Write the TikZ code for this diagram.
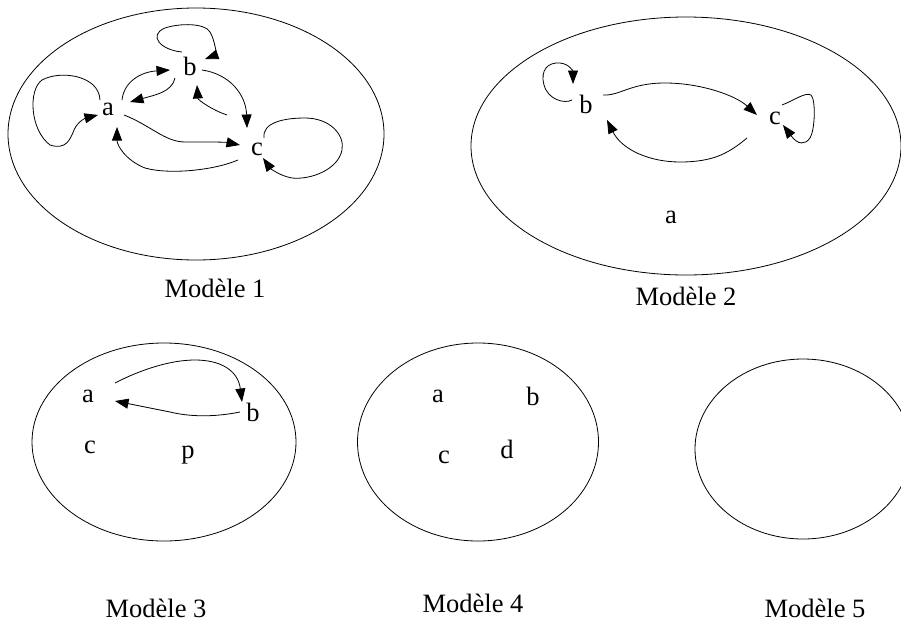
\documentclass[tikz,border=0pt]{standalone}
\usepackage{fontspec}
\setmainfont{Liberation Serif}
\usetikzlibrary{arrows.meta}
\begin{document}
\begin{tikzpicture}[x=1pt,y=-1pt,line width=0.8pt,line join=round,
  lbl/.style={anchor=base,inner sep=0pt,font=\fontsize{26.5}{30}\selectfont},
  arr/.style={-{Triangle[length=13.5pt,width=10pt]}},
  frame/.style={draw,line width=0.8pt}]
\useasboundingbox (0,0) rectangle (901,624);

% ellipses
\draw[frame] (196,134) ellipse [x radius=188pt, y radius=126pt];
\draw[frame] (686,146) ellipse [x radius=215pt, y radius=129pt];
\draw[frame] (164,442) ellipse [x radius=132pt, y radius=99pt];
\draw[frame] (478,442) ellipse [x radius=120.5pt, y radius=99pt];
\draw[frame] (803,449) ellipse [x radius=108pt, y radius=90pt];

% captions
\node[lbl] (m1) at (215,297) {Modèle 1};
\node[lbl] (m2) at (686,305) {Modèle 2};
\node[lbl] (m3) at (156,617) {Modèle 3};
\node[lbl] (m4) at (473,612) {Modèle 4};
\node[lbl] (m5) at (815,617) {Modèle 5};

% ---------- Modele 1 ----------
\node[lbl] (a1) at (108,115) {a};
\node[lbl] (b1) at (190,75) {b};
\node[lbl] (c1) at (257,155) {c};

\draw[arr] ([shift={(-8,-15)}]a1.base) .. controls (99,75) and (60,70) .. (42,80)
  .. controls (28,90) and (30,130) .. (50,145)
  .. controls (66,150) and (70,140) .. (74,130)
  .. controls (78,121) and (86,118) .. ([shift={(-10,0)}]a1.base);
\draw[arr] ([shift={(14,-15)}]a1.base) .. controls (124,82) and (140,72) .. ([shift={(-20,-5)}]b1.base);
\draw[arr] ([shift={(-15,3)}]b1.base) .. controls (172,92) and (155,95) .. ([shift={(22,-13)}]a1.base);
\draw[arr] ([shift={(-8,-23)}]b1.base) .. controls (160,50) and (148,35) .. (165,28)
  .. controls (180,23) and (205,23) .. (210,32)
  .. controls (215,40) and (216,55) .. ([shift={(15,-16)}]b1.base);
\draw[arr] ([shift={(12,-5)}]b1.base) .. controls (230,74) and (246,95) .. ([shift={(-10,-27)}]c1.base);
\draw[arr] ([shift={(-30,-40)}]c1.base) .. controls (212,110) and (198,100) .. ([shift={(7,10)}]b1.base);
\draw[arr] ([shift={(16,0)}]a1.base) .. controls (150,125) and (165,142) .. (185,142)
  .. controls (205,142) and (225,142) .. ([shift={(-17,-10)}]c1.base);
\draw[arr] ([shift={(-19,5)}]c1.base) .. controls (215,170) and (170,175) .. (145,168)
  .. controls (125,160) and (117,145) .. ([shift={(9,12)}]a1.base);
\draw[arr] ([shift={(7,-17)}]c1.base) .. controls (262,122) and (285,118) .. (305,118)
  .. controls (330,118) and (345,135) .. (342,150)
  .. controls (338,170) and (310,180) .. (292,178)
  .. controls (280,176) and (270,168) .. ([shift={(6,3)}]c1.base);

% ---------- Modele 2 ----------
\node[lbl] (b2) at (586,113) {b};
\node[lbl] (c2) at (775,124) {c};
\node[lbl] (a2) at (671,223) {a};

\draw[arr] ([shift={(-14,-13)}]b2.base) .. controls (565,104) and (548,100) .. (544,85)
  .. controls (540,70) and (548,62) .. (560,63)
  .. controls (570,64) and (573,72) .. ([shift={(-13,-29)}]b2.base);
\draw[arr] ([shift={(17,-18)}]b2.base) .. controls (620,96) and (630,83) .. (665,83)
  .. controls (700,83) and (735,95) .. ([shift={(-18,-9)}]c2.base);
\draw[arr] ([shift={(-28,14)}]c2.base) .. controls (730,152) and (715,162) .. (680,162)
  .. controls (650,162) and (622,150) .. ([shift={(21,7)}]b2.base);
\draw[arr] ([shift={(7,-19)}]c2.base) .. controls (795,100) and (805,92) .. (811,95)
  .. controls (816,100) and (815,130) .. (810,138)
  .. controls (805,145) and (798,145) .. ([shift={(8,1)}]c2.base);

% ---------- Modele 3 ----------
\node[lbl] (a3) at (88,402) {a};
\node[lbl] (b3) at (253,421) {b};
\node[lbl] (c3) at (90,453) {c};
\node[lbl] (p3) at (188,458) {p};

\draw[arr] ([shift={(27,-19)}]a3.base) .. controls (140,370) and (170,360) .. (195,360)
  .. controls (220,360) and (238,370) .. ([shift={(-11,-19)}]b3.base);
\draw[arr] ([shift={(-13,-9)}]b3.base) .. controls (220,416) and (195,418) .. (170,412)
  .. controls (150,408) and (130,404) .. ([shift={(27,-1)}]a3.base);

% ---------- Modele 4 ----------
\node[lbl] (a4) at (438,402) {a};
\node[lbl] (b4) at (533,405) {b};
\node[lbl] (c4) at (444,463) {c};
\node[lbl] (d4) at (507,458) {d};
\end{tikzpicture}
\end{document}
